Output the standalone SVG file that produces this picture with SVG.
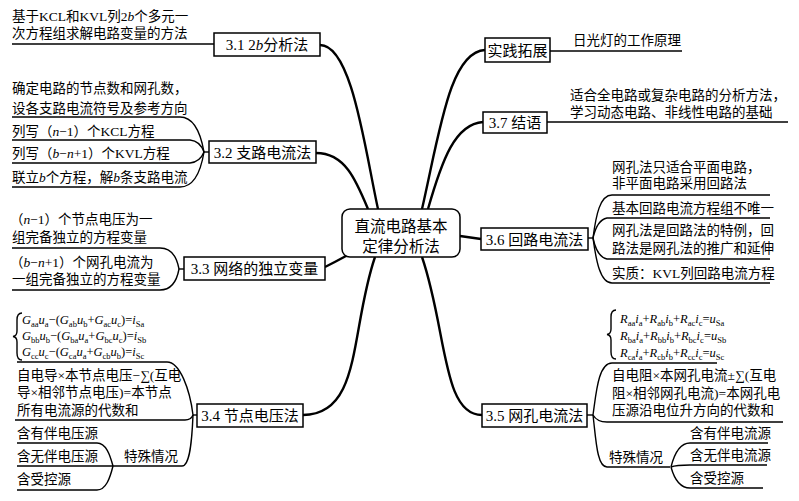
<svg xmlns="http://www.w3.org/2000/svg" width="799" height="501" viewBox="0 0 799 501">
<style>
text{font-family:"Liberation Serif","Noto Sans CJK SC",serif;fill:#000}
.t{font-size:13.5px}
.lbl{font-size:15px;text-anchor:middle}
.ctr{font-size:15.5px;text-anchor:middle}
.box{fill:#fff;stroke:#000;stroke-width:1.5}
.ln{fill:none;stroke:#000;stroke-width:1.4}
.conn{fill:none;stroke:#000;stroke-width:2.4}
.eq{font-size:12.5px;font-style:italic}
.s{font-size:8.5px;font-style:normal}
.i{font-style:italic}
</style>
<rect width="799" height="501" fill="#fff"/>
<g id="connectors">
<path class="conn" d="M320,45 C352,45 365,150 378,209"/>
<path class="conn" d="M316,153 C345,153 356,180 368,209"/>
<path class="conn" d="M325,267 Q335,262 346,256"/>
<path class="conn" d="M375,257 C350,330 362,415 303,415"/>
<path class="conn" d="M422,209 C440,130 450,52 485,50"/>
<path class="conn" d="M428,209 C442,160 455,124 483,122"/>
<path class="conn" d="M460,236 L481,239"/>
<path class="conn" d="M422,257 C447,330 442,415 482,415"/>
</g>
<g id="center">
<rect class="box" x="342" y="209" width="118" height="48" rx="8"/>
<text class="ctr" x="401" y="231.5">直流电路基本</text>
<text class="ctr" x="401" y="251.5">定律分析法</text>
</g>
<g id="n31">
<rect class="box" x="214" y="33" width="106" height="23"/>
<text class="lbl" x="267" y="50">3.1 2<tspan class="i">b</tspan>分析法</text>
</g>
<g id="n31-leaf">
<path class="ln" d="M12,44 H214"/>
<text class="t" x="12" y="21">基于KCL和KVL列2<tspan class="i">b</tspan>个多元一</text>
<text class="t" x="12" y="38">次方程组求解电路变量的方法</text>
</g>
<g id="n32">
<rect class="box" x="209" y="141" width="107" height="22"/>
<text class="lbl" x="262.5" y="157.5">3.2 支路电流法</text>
</g>
<g id="n32-leaf">
<path class="ln" d="M12,117 H180 C195,117 201,135 204,152"/>
<path class="ln" d="M12,140 H190 Q200,141 204,152"/>
<path class="ln" d="M12,163 H190 Q200,162 204,152"/>
<path class="ln" d="M12,187 H180 C195,187 201,170 204,152"/>
<path class="ln" d="M204,152 H209"/>
<text class="t" x="12" y="93">确定电路的节点数和网孔数，</text>
<text class="t" x="12" y="113">设各支路电流符号及参考方向</text>
<text class="t" x="12" y="136">列写（<tspan class="i">n</tspan>−1）个KCL方程</text>
<text class="t" x="12" y="158">列写（<tspan class="i">b</tspan>−<tspan class="i">n</tspan>+1）个KVL方程</text>
<text class="t" x="12" y="182">联立<tspan class="i">b</tspan>个方程，解<tspan class="i">b</tspan>条支路电流</text>
</g>
<g id="n33">
<rect class="box" x="184" y="257" width="141" height="23"/>
<text class="lbl" x="254.5" y="274">3.3 网络的独立变量</text>
</g>
<g id="n33-leaf">
<path class="ln" d="M12,248 H160 C172,248 177,258 179,269"/>
<path class="ln" d="M12,290 H160 C172,290 177,280 179,269"/>
<path class="ln" d="M179,269 H184"/>
<text class="t" x="10" y="224">（<tspan class="i">n</tspan>−1）个节点电压为一</text>
<text class="t" x="12" y="242">组完备独立的方程变量</text>
<text class="t" x="10" y="267">（<tspan class="i">b</tspan>−<tspan class="i">n</tspan>+1）个网孔电流为</text>
<text class="t" x="12" y="284">一组完备独立的方程变量</text>
</g>
<g id="n34">
<rect class="box" x="197" y="404" width="106" height="23"/>
<text class="lbl" x="250" y="421">3.4 节点电压法</text>
</g>
<g id="n34-leaf">
<path class="ln" d="M22,313 Q17,313 17,320 V331 Q17,336 13,336.5 Q17,337 17,342 V353 Q17,360 22,360"/>
<text class="eq" x="22" y="324">G<tspan class="s" dy="3">aa</tspan><tspan dy="-3">u</tspan><tspan class="s" dy="3">a</tspan><tspan dy="-3" font-style="normal">−(</tspan>G<tspan class="s" dy="3">ab</tspan><tspan dy="-3">u</tspan><tspan class="s" dy="3">b</tspan><tspan dy="-3" font-style="normal">+</tspan>G<tspan class="s" dy="3">ac</tspan><tspan dy="-3">u</tspan><tspan class="s" dy="3">c</tspan><tspan dy="-3" font-style="normal">)=</tspan>i<tspan class="s" dy="3">Sa</tspan></text>
<text class="eq" x="22" y="340">G<tspan class="s" dy="3">bb</tspan><tspan dy="-3">u</tspan><tspan class="s" dy="3">b</tspan><tspan dy="-3" font-style="normal">−(</tspan>G<tspan class="s" dy="3">ba</tspan><tspan dy="-3">u</tspan><tspan class="s" dy="3">a</tspan><tspan dy="-3" font-style="normal">+</tspan>G<tspan class="s" dy="3">bc</tspan><tspan dy="-3">u</tspan><tspan class="s" dy="3">c</tspan><tspan dy="-3" font-style="normal">)=</tspan>i<tspan class="s" dy="3">Sb</tspan></text>
<text class="eq" x="22" y="356">G<tspan class="s" dy="3">cc</tspan><tspan dy="-3">u</tspan><tspan class="s" dy="3">c</tspan><tspan dy="-3" font-style="normal">−(</tspan>G<tspan class="s" dy="3">ca</tspan><tspan dy="-3">u</tspan><tspan class="s" dy="3">a</tspan><tspan dy="-3" font-style="normal">+</tspan>G<tspan class="s" dy="3">cb</tspan><tspan dy="-3">u</tspan><tspan class="s" dy="3">b</tspan><tspan dy="-3" font-style="normal">)=</tspan>i<tspan class="s" dy="3">Sc</tspan></text>
<path class="ln" d="M17,362 H167 C180,362 190,390 193,415"/>
<path class="ln" d="M15,420 H185 Q191,420 193,415"/>
<path class="ln" d="M113,466 H182 C190,466 192,440 193,415"/>
<path class="ln" d="M193,415 H197"/>
<text class="t" x="17" y="380">自电导×本节点电压−∑(互电</text>
<text class="t" x="17" y="397">导×相邻节点电压)=本节点</text>
<text class="t" x="17" y="415">所有电流源的代数和</text>
<path class="ln" d="M17,443 H97 C106,443 110,455 113,466"/>
<path class="ln" d="M17,466 H113"/>
<path class="ln" d="M17,490 H97 C106,490 110,478 113,466"/>
<text class="t" x="17" y="438">含有伴电压源</text>
<text class="t" x="17" y="461">含无伴电压源</text>
<text class="t" x="17" y="484">含受控源</text>
<text class="t" x="124" y="461">特殊情况</text>
</g>
<g id="nshijian">
<rect class="box" x="485" y="38" width="65" height="24"/>
<text class="lbl" x="517.5" y="55.5">实践拓展</text>
</g>
<g id="nshijian-leaf">
<path class="ln" d="M550,51 H682"/>
<text class="t" x="573" y="45">日光灯的工作原理</text>
</g>
<g id="n37">
<rect class="box" x="483" y="112" width="64" height="21"/>
<text class="lbl" x="515" y="128">3.7 结语</text>
</g>
<g id="n37-leaf">
<path class="ln" d="M547,122 H788"/>
<text class="t" x="570" y="100">适合全电路或复杂电路的分析方法，</text>
<text class="t" x="570" y="117">学习动态电路、非线性电路的基础</text>
</g>
<g id="n36">
<rect class="box" x="481" y="228" width="107" height="22"/>
<text class="lbl" x="534.5" y="244.5">3.6 回路电流法</text>
</g>
<g id="n36-leaf">
<path class="ln" d="M770,195 H612 C600,195 596,215 593,238"/>
<path class="ln" d="M770,218 H607 Q597,220 593,238"/>
<path class="ln" d="M770,259 H607 Q597,257 593,238"/>
<path class="ln" d="M770,283 H612 C600,283 596,260 593,238"/>
<path class="ln" d="M588,238 H593"/>
<text class="t" x="612" y="172">网孔法只适合平面电路，</text>
<text class="t" x="612" y="188">非平面电路采用回路法</text>
<text class="t" x="612" y="213">基本回路电流方程组不唯一</text>
<text class="t" x="612" y="235">网孔法是回路法的特例，回</text>
<text class="t" x="612" y="253">路法是网孔法的推广和延伸</text>
<text class="t" x="612" y="278">实质：KVL列回路电流方程</text>
</g>
<g id="n35">
<rect class="box" x="482" y="404" width="105" height="23"/>
<text class="lbl" x="534.5" y="421">3.5 网孔电流法</text>
</g>
<g id="n35-leaf">
<path class="ln" d="M616,310 Q611,310 611,317 V329 Q611,334 607,334.5 Q611,335 611,340 V352 Q611,359 616,359"/>
<text class="eq" x="620" y="323">R<tspan class="s" dy="3">aa</tspan><tspan dy="-3">i</tspan><tspan class="s" dy="3">a</tspan><tspan dy="-3" font-style="normal">+</tspan>R<tspan class="s" dy="3">ab</tspan><tspan dy="-3">i</tspan><tspan class="s" dy="3">b</tspan><tspan dy="-3" font-style="normal">+</tspan>R<tspan class="s" dy="3">ac</tspan><tspan dy="-3">i</tspan><tspan class="s" dy="3">c</tspan><tspan dy="-3" font-style="normal">=</tspan>u<tspan class="s" dy="3">Sa</tspan></text>
<text class="eq" x="620" y="340">R<tspan class="s" dy="3">ba</tspan><tspan dy="-3">i</tspan><tspan class="s" dy="3">a</tspan><tspan dy="-3" font-style="normal">+</tspan>R<tspan class="s" dy="3">bb</tspan><tspan dy="-3">i</tspan><tspan class="s" dy="3">b</tspan><tspan dy="-3" font-style="normal">+</tspan>R<tspan class="s" dy="3">bc</tspan><tspan dy="-3">i</tspan><tspan class="s" dy="3">c</tspan><tspan dy="-3" font-style="normal">=</tspan>u<tspan class="s" dy="3">Sb</tspan></text>
<text class="eq" x="620" y="357">R<tspan class="s" dy="3">ca</tspan><tspan dy="-3">i</tspan><tspan class="s" dy="3">a</tspan><tspan dy="-3" font-style="normal">+</tspan>R<tspan class="s" dy="3">cb</tspan><tspan dy="-3">i</tspan><tspan class="s" dy="3">b</tspan><tspan dy="-3" font-style="normal">+</tspan>R<tspan class="s" dy="3">cc</tspan><tspan dy="-3">i</tspan><tspan class="s" dy="3">c</tspan><tspan dy="-3" font-style="normal">=</tspan>u<tspan class="s" dy="3">Sc</tspan></text>
<path class="ln" d="M717,363 H612 C598,363 596,395 593,415"/>
<path class="ln" d="M783,422 H607 Q597,422 593,415"/>
<path class="ln" d="M670,467 H607 C597,467 596,440 593,415"/>
<path class="ln" d="M587,415 H593"/>
<text class="t" x="612" y="380">自电阻×本网孔电流±∑(互电</text>
<text class="t" x="612" y="398">阻×相邻网孔电流)=本网孔电</text>
<text class="t" x="612" y="415">压源沿电位升方向的代数和</text>
<path class="ln" d="M768,443 H690 C680,443 674,455 671,467"/>
<path class="ln" d="M767,465 H690 Q676,465 671,467"/>
<path class="ln" d="M763,488 H690 C680,488 674,478 671,467"/>
<text class="t" x="609" y="462">特殊情况</text>
<text class="t" x="690" y="438">含有伴电流源</text>
<text class="t" x="690" y="460">含无伴电流源</text>
<text class="t" x="690" y="483">含受控源</text>
</g>
</svg>
